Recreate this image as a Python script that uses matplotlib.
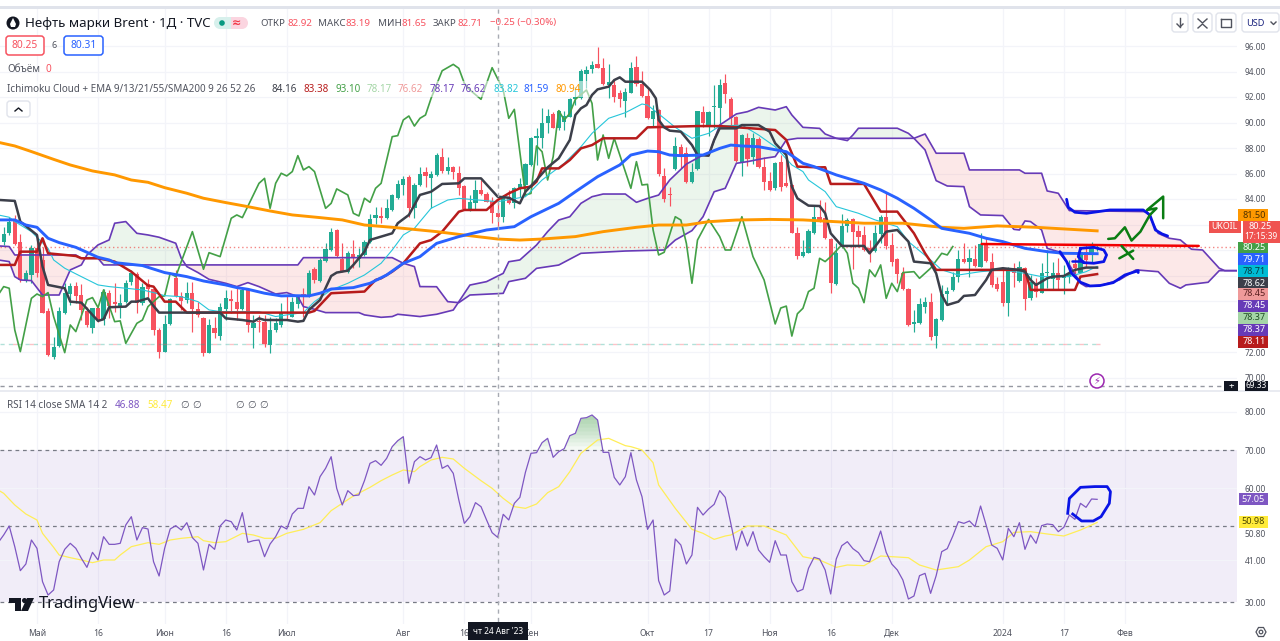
import numpy as np
import matplotlib
matplotlib.use("Agg")
import matplotlib.pyplot as plt
from matplotlib.patches import Rectangle, FancyBboxPatch, Circle, Polygon

plt.rcParams['font.family'] = ['Noto Sans', 'DejaVu Sans']

# ---------- OHLC ----------
opens = [80.66,81.31,82.36,80.61,77.65,78.04,80.13,79.22,75.22,71.64,72.47,75.09,76.55,77.18,76.47,75.22,73.91,75.48,74.57,76.61,
 75.90,75.43,75.95,77.47,78.10,75.82,77.34,76.95,73.73,72.03,74.20,77.83,76.40,76.08,76.61,75.35,74.70,71.90,73.86,73.26,
 75.35,76.16,75.95,75.38,76.95,73.91,74.46,74.38,72.55,73.73,74.12,75.09,74.78,75.77,76.55,76.40,78.51,77.57,79.17,80.0,
 81.57,79.27,78.30,79.69,79.27,79.61,80.66,82.49,82.67,82.49,83.14,84.06,85.10,85.70,83.27,85.10,86.14,85.62,85.88,87.27,
 86.22,86.48,86.01,85.02,83.19,83.71,84.71,84.39,83.84,82.93,82.61,84.13,83.66,84.78,85.10,86.67,88.76,88.81,89.99,90.67,
 89.59,90.06,90.40,91.82,91.89,93.78,94.17,94.59,94.30,92.94,92.94,92.34,91.69,92.34,94.33,92.99,92.08,90.27,90.98,85.80,
 84.37,86.35,88.10,87.63,85.36,86.33,90.85,89.67,91.24,91.16,93.12,91.84,90.40,86.93,88.76,87.27,88.68,86.54,85.41,84.84,
 86.88,85.28,85.10,81.36,79.53,79.79,81.31,82.62,82.49,80.87,77.34,80.21,81.89,82.44,81.49,81.18,80.13,79.95,81.26,82.57,
 80.40,79.27,78.17,76.92,74.20,74.25,75.56,75.90,73.26,74.51,76.53,76.87,77.86,79.27,79.04,79.27,78.70,80.47,79.09,77.34,
 77.52,75.87,78.44,77.57,78.57,76.21,77.34,76.66,78.17,77.73,78.17,77.78,77.86,78.91,78.23,79.82,79.61,80.14]
highs = [81.83,82.62,82.75,81.26,78.44,80.40,81.18,80.27,75.43,73.21,75.56,77.39,77.39,77.47,77.31,75.56,75.48,75.56,76.95,76.87,
 77.39,76.55,77.65,78.44,78.30,77.39,77.70,77.0,73.86,74.91,76.21,78.44,76.74,77.52,77.52,75.95,74.78,74.57,74.78,75.82,
 76.87,76.87,77.13,77.0,77.0,74.91,74.91,74.91,74.78,74.64,75.82,76.42,76.34,76.47,77.0,78.44,78.70,79.35,80.53,81.70,
 81.62,80.53,79.93,80.79,80.13,80.79,82.83,83.40,83.35,83.98,84.40,85.49,85.81,85.89,85.23,86.54,86.54,86.22,87.58,88.03,
 87.27,86.59,86.59,85.10,84.31,85.49,85.49,84.57,84.18,83.66,84.31,84.71,84.97,85.62,86.80,88.89,89.54,91.11,91.03,90.85,
 90.98,90.93,91.89,92.81,94.17,94.43,94.85,95.89,95.03,94.59,93.33,92.55,92.68,94.77,95.24,94.06,92.81,91.37,91.03,86.40,
 84.97,88.89,88.31,88.10,86.80,90.93,91.32,90.93,92.94,93.38,93.78,92.03,90.51,89.10,89.20,89.20,88.84,87.32,86.14,86.93,
 87.45,87.58,85.18,81.83,80.79,81.62,83.45,83.93,83.79,80.92,80.53,82.83,82.49,82.49,81.96,81.89,80.79,81.96,82.75,84.58,
 81.31,79.35,78.70,77.0,75.30,76.21,76.34,76.61,74.64,77.26,77.13,78.30,80.0,80.53,80.06,80.40,81.36,80.92,79.74,77.91,
 78.70,78.70,78.96,79.14,78.70,78.04,77.78,78.96,80.0,79.09,79.35,78.83,79.22,79.35,80.13,80.40,80.66,80.40]
lows = [80.40,81.18,80.40,77.52,77.52,77.39,77.91,75.09,71.72,71.43,72.42,74.98,75.69,75.87,74.51,73.99,73.47,74.38,74.12,74.64,
 75.17,74.64,75.82,77.26,75.09,75.69,76.29,73.34,71.51,72.03,74.12,76.34,75.30,75.82,73.60,74.78,71.69,71.90,73.08,72.95,
 74.51,75.04,74.51,75.30,73.60,72.29,73.60,72.42,71.90,73.60,73.99,74.57,74.72,75.43,74.78,76.34,77.39,77.52,79.09,79.95,
 79.48,78.30,78.23,78.57,78.64,79.53,80.58,82.04,82.10,82.44,83.09,83.98,84.32,82.62,82.49,85.05,84.97,83.32,85.83,86.01,
 85.93,85.54,84.31,83.14,83.08,83.14,84.31,83.74,82.09,81.62,82.22,83.61,83.27,84.18,84.31,86.59,86.67,87.97,89.15,89.54,
 89.41,89.41,90.40,91.37,91.82,92.68,93.86,94.25,92.94,91.89,91.63,91.24,90.46,92.29,92.86,91.97,90.25,89.62,85.80,83.79,
 83.45,86.27,86.40,85.28,85.23,86.27,89.62,88.94,89.54,89.80,91.50,89.54,86.93,85.80,86.59,86.74,86.46,84.71,84.65,84.71,
 84.65,84.97,81.31,79.27,79.48,79.74,81.26,82.23,80.84,76.66,77.29,80.13,81.39,78.51,80.27,79.95,79.09,79.87,80.53,80.06,
 78.78,77.39,76.87,74.04,73.60,74.20,75.04,72.95,72.29,74.44,75.77,76.81,77.52,78.96,77.86,78.70,78.64,79.09,77.13,76.81,
 75.61,74.83,77.13,77.52,75.30,76.08,76.34,76.61,77.0,76.87,76.87,76.55,77.39,77.78,78.17,78.70,78.96,79.90]
closes = [81.23,82.23,80.47,77.65,78.23,80.13,78.17,75.09,71.77,72.42,75.22,76.61,77.21,76.42,75.30,74.12,75.43,74.51,76.68,75.64,
 75.74,75.82,77.44,78.17,75.87,77.13,76.92,73.73,72.03,74.20,76.13,76.40,76.0,76.66,75.38,74.91,71.95,74.12,73.47,75.51,
 76.24,76.0,75.35,76.87,74.12,74.25,74.33,72.61,73.73,74.25,75.04,75.04,75.95,76.34,76.40,78.17,77.65,79.22,80.06,81.44,
 79.53,78.38,79.74,79.35,79.61,80.61,82.41,82.75,82.54,83.32,84.32,85.18,85.57,83.27,85.10,85.94,85.80,86.0,87.45,86.20,
 86.54,86.14,84.89,83.22,83.79,84.71,84.39,83.79,82.88,82.61,84.05,83.66,84.84,85.15,86.74,88.81,88.94,89.99,90.51,89.59,
 90.93,90.51,91.82,92.03,94.04,94.12,94.48,94.25,93.02,93.15,92.03,91.82,92.37,94.25,92.99,92.08,90.33,90.93,85.93,84.0,
 84.31,88.16,87.27,85.36,86.14,90.90,89.93,90.85,91.32,92.94,92.23,90.38,87.01,89.02,87.11,88.76,86.54,85.36,84.71,86.85,
 84.97,85.05,81.31,79.53,79.82,81.52,82.62,82.28,80.92,77.39,79.79,81.89,82.36,81.44,81.05,80.0,79.82,81.31,82.57,80.32,
 79.09,78.10,76.92,74.12,74.33,75.74,75.95,73.21,74.57,76.55,76.81,77.86,79.27,79.04,79.35,78.78,80.47,79.17,77.26,76.95,
 75.82,78.44,78.23,78.70,76.13,77.47,76.68,78.23,78.30,78.23,77.65,78.04,78.12,78.57,79.82,79.22,80.13,80.25]

# ---------- indicator lines: bar index / value ----------
tenkan_i = [-1,2,3,6,7,8,11,12,14,16,17,18,19,22,23,24,26,27,28,39,40,43,45,46,47,51,53,54,55,57,59,60,62,63,65,66,70,71,73,75,
 77,79,82,83,86,89,91,93,94,96,98,100,102,103,104,105,106,107,109,110,111,112,115,116.5,117.5,118,119,120,122,124,125,127,128,129,132,133,136,138,139,141,142,143,145,
 147,148,149,151,155,156,157,159,161,163,164,167,168,169,170,172,173,175,177,178,180,183,184,185,186,188,189,191,193,195,197]
tenkan_p = [83.93,83.85,82.23,81.18,78.70,77.26,77.0,75.95,75.87,74.91,74.44,74.57,75.51,75.56,75.95,75.95,76.21,75.61,75.09,75.09,74.64,74.51,74.38,74.64,74.51,74.51,74.38,74.44,75.30,76.08,77.96,78.23,78.38,78.83,79.87,80.79,81.31,82.10,82.75,84.32,
 84.57,85.18,85.23,85.62,85.62,84.18,84.10,83.66,84.57,85.49,86.48,87.19,88.63,90.59,91.11,91.37,92.16,92.60,92.81,93.33,93.54,93.2,93.2,92.55,91.89,90.2,89.62,89.36,89.28,88.23,87.45,87.40,88.63,89.54,89.54,89.80,89.80,89.28,88.37,87.45,84.97,84.05,83.48,
 83.45,82.88,81.31,80.32,80.32,79.74,80.27,81.44,81.57,80.66,79.09,78.96,78.17,76.47,75.69,75.95,76.40,76.47,77.65,78.44,78.57,78.44,78.30,77.65,77.26,77.78,77.91,77.96,78.44,78.62,78.62]
kijun_i = [-1,2,3,6,7,8,13,14,17,20,23,26,27,29,31,33,55,56,59,65,67,68,70,72,75,77,79,82,83,87,89,91,93,95,96,97,100,102,104,106,108,114,116,125,129,139,141,143,147,148,149,155,158,161,164,166,168,184,185,193,194,197]
kijun_p = [78.83,78.83,79.87,79.87,80.92,79.74,79.53,79.35,79.35,79.09,78.30,77.21,77.13,75.95,75.95,75.09,75.09,75.22,76.61,76.74,77.65,77.78,78.30,78.96,80.52,80.78,81.44,83.0,83.14,83.14,83.92,84.44,84.84,84.97,85.36,86.40,86.40,87.06,87.97,88.23,88.76,88.76,89.62,89.72,89.72,89.41,88.63,86.54,86.48,86.49,85.18,85.18,83.01,83.01,81.31,79.74,78.44,78.44,76.87,76.87,77.91,78.11]
chikou_i = [-1,0,1,2,3,5,6,7,8,9,11,12,13,15,16,17,18,20,21,22,24,25,26,28,29,30,31,34,36,37,39,41,42,43,46,47,48,49,50,51,52,53,54,55,56,58,59,60,62,63,64,65,66,67,68,70,71,72,
 73,74,75,76,77,79,81,82,83,84,86,88,90,91,92,94,95,96,97,98,99,100,101,102,103,105,106,107,108,109,110,112,113,114,115,116,117,118,119,121,122,123,124,125,127,129,130,131,133,135,137,139,140,141,142,143,144,145,146,147,148,149,151,152,153,154,155,156,157,158,159,160,161,162,164,165,167,169,170,171]
chikou_p = [76.47,77.13,77.0,73.73,72.03,76.21,76.55,76.34,76.66,74.78,71.95,74.12,73.60,76.08,76.27,75.48,76.87,74.38,74.44,72.68,74.25,74.51,75.56,76.34,76.40,78.17,77.91,81.44,78.49,79.79,79.48,82.49,82.75,82.54,85.23,85.62,83.27,85.23,86.02,85.81,86.15,87.40,86.28,86.54,86.15,83.27,83.66,84.79,84.32,82.88,82.67,84.06,83.74,84.84,85.23,88.89,88.97,90.2,
 90.51,89.72,90.33,90.59,91.89,94.06,94.56,94.25,93.07,92.55,91.82,94.30,92.55,90.33,91.03,84.31,84.44,88.16,87.71,85.49,87.32,90.93,90.20,90.72,91.82,92.55,91.50,87.06,89.02,87.19,88.76,86.14,84.84,86.93,85.10,85.15,81.57,79.61,79.82,82.61,82.35,80.52,77.39,80.78,82.40,81.05,80.0,80.0,82.61,79.48,77.65,74.2,75.45,75.6,73.25,75.0,75.43,76.74,77.0,79.35,79.09,79.48,80.40,79.74,77.39,77.0,75.87,78.44,77.91,78.83,76.21,77.39,76.74,78.23,78.30,77.78,78.57,79.74,79.61,80.27]
span_a_i = [-1,1,2,3,5,7,10,12,14,15,17,19,20,22,24,26,28,31,32,33,35,37,40,42,44,46,49,51,53,54,56,58,64,65,68,70,71,75,78,81,84,87,90,91,93,96,98,100,102,104,106,108,112,114,116,118,120,123,126,127,129,132,134,136,139,141,142,144,147,148,150,152,153,154,161,163,164,166,168,170,173,174,176,180,182,183,184,185,187,188,190,192,194,195,198,201,204,208,210,212,213,217,219,223]
span_a_p = [79.22,79.09,77.91,77.65,77.60,76.47,76.47,78.44,78.83,79.61,80.40,80.79,82.10,82.23,81.31,81.18,81.0,80.53,79.35,78.70,78.23,77.70,77.39,77.13,77.44,77.13,76.55,76.66,76.34,75.56,75.35,75.09,75.09,74.91,74.72,74.78,74.96,74.78,74.96,75.29,77.25,77.52,78.17,79.08,79.22,80.39,81.44,82.35,82.61,83.66,84.18,84.39,84.39,83.74,84.05,84.31,85.49,86.74,87.45,87.40,89.80,90.67,90.85,91.19,90.98,91.24,90.59,89.62,89.54,89.10,88.76,88.58,89.02,89.55,89.55,89.15,88.76,87.85,85.44,85.02,84.97,83.40,82.75,82.70,81.62,81.57,82.28,82.23,81.57,80.13,79.87,78.83,77.39,77.13,77.26,77.65,78.44,78.30,77.39,77.0,77.26,77.47,78.38,78.38]
span_b_i = [-1,1,2,13,14,17,18,53,54,70,72,74,75,78,80,82,84,90,91,94,96,100,104,112,119,121,124,126,128,130,132,134,137,139,141,143,147,164,166,168,173,174,183,184,187,188,190,192,206,208,210,212,214,216,219,220,223]
span_b_p = [80.32,80.27,79.61,79.61,79.35,79.35,78.83,78.83,79.40,79.40,78.96,78.70,77.13,77.12,75.95,75.87,76.47,76.60,77.52,77.78,78.56,78.82,79.74,79.92,80.0,80.78,81.52,82.61,84.57,84.84,86.80,86.93,87.19,87.32,88.63,88.76,88.76,88.76,89.10,87.59,87.59,86.28,86.28,86.02,86.02,84.63,84.45,83.09,83.01,81.31,80.92,80.79,80.06,80.0,78.57,78.38,78.38]
ema21_i = [-1,2,4,6,8,10,13,17,19,20,25,29,33,36,40,42,44,47,50,52,55,57,59,63,66,69,72,75,78,82,87,92,95,100,103,107,111,113,116,118,120,122,126,129,131,133,136,141,144,146,150,155,158,161,164,167,169,174,177,180,184,188,191,197]
ema21_p = [82.36,82.36,81.96,81.78,80.92,80.58,80.21,79.43,79.22,79.01,78.78,78.23,77.91,77.57,77.26,77.05,76.92,76.61,76.40,76.42,76.40,76.61,76.94,77.05,77.39,78.04,78.96,79.48,80.52,81.05,81.57,81.83,82.61,83.66,84.57,85.75,86.67,87.45,87.76,87.71,87.45,87.40,87.45,87.97,88.23,88.16,88.10,87.71,86.80,86.54,85.89,85.23,84.71,84.06,83.27,82.36,81.70,81.31,80.92,80.66,80.13,79.87,79.74,79.71]
sma200_i = [-1,2,5,9,12,16,20,23,26,29,33,36,40,44,48,52,57,61,65,70,75,78,84,89,93,97,103,108,114,118,123,127,132,138,144,155,162,169,173,179,186,197]
sma200_p = [88.45,88.16,87.72,87.11,86.67,86.20,85.89,85.49,85.31,84.89,84.45,84.06,83.72,83.40,83.06,82.75,82.54,82.36,81.96,81.78,81.57,81.44,81.12,80.86,80.78,80.86,81.05,81.44,81.78,81.96,81.96,82.22,82.35,82.40,82.36,82.10,82.10,81.78,81.70,81.89,81.78,81.50]
ema13_i = [-1,1,2,5,8,9,11,14,17,19,22,25,27,29,32,35,37,39,43,46,49,51,54,56,59,62,65,68,70,72,74,77,80,82,89,94,97,101,104,106,109,112,115,116,119,121,124,127,129,133,136,139,142,144,145,148,150,154,157,161,163,167,169,172,176,180,184,187,192,195,197]
ema13_p = [82.75,82.57,82.23,81.44,80.13,79.22,78.57,77.91,77.26,77.13,77.0,76.87,76.66,76.42,76.34,75.95,75.30,75.17,75.17,75.17,74.78,74.91,75.09,75.95,76.87,77.39,78.04,78.96,80.0,81.18,81.70,83.27,83.92,84.05,83.79,84.18,85.49,86.80,88.10,89.15,90.33,90.77,91.45,91.37,90.33,89.62,88.76,89.15,89.72,89.80,89.02,88.10,86.67,86.15,85.49,84.58,83.40,82.88,82.36,81.83,80.66,79.22,78.44,78.04,78.30,78.44,78.17,77.91,77.91,78.30,78.71]

# ---------- RSI ----------
rsi_values = [45.68,47.69,50.05,44.63,38.33,40.08,46.38,44.19,35.44,31.94,33.26,40.69,43.93,45.51,44.19,41.57,39.20,43.14,41.13,47.25,45.24,45.24,45.51,50.32,52.50,46.38,49.62,49.27,40.69,36.93,44.19,49.27,50.14,49.0,50.93,47.0,45.51,38.51,45.24,43.93,50.05,51.63,51.19,49.0,53.55,45.77,46.20,46.38,42.0,45.33,47.25,50.05,49.27,53.20,54.69,54.69,60.38,58.19,63.0,65.19,68.25,59.94,55.57,59.33,58.02,58.19,61.95,66.50,67.20,65.98,67.81,70.88,72.45,73.50,61.25,66.94,68.25,67.38,67.99,71.31,65.19,65.98,63.88,56.88,50.75,52.50,56.18,55.13,51.63,48.31,47.08,53.12,51.63,56.0,57.58,64.14,69.13,69.30,71.93,73.06,68.08,69.56,70.35,73.76,74.38,78.31,78.49,79.19,77.88,69.39,69.39,62.83,60.82,63.0,69.30,62.13,57.75,
 49.18,51.63,35.71,31.94,32.99,46.64,45.07,40.08,42.44,54.95,52.94,54.52,55.74,59.33,57.58,50.75,43.75,48.74,44.80,48.57,43.75,42.0,40.52,46.20,42.44,42.44,35.44,32.82,33.43,38.94,41.83,41.39,38.51,32.21,41.39,44.89,45.94,44.11,43.05,40.96,40.69,44.63,48.74,43.14,40.08,38.51,35.88,30.89,31.68,37.02,37.63,32.38,37.02,43.32,44.11,47.43,51.19,50.75,51.37,49.88,55.30,50.32,45.07,44.19,41.13,49.44,47.25,50.93,43.93,47.69,45.51,50.14,50.58,50.40,48.57,49.70,52.94,51.80,56.0,54.95,57.14,57.05]
rsi_sma_i = [-1,0,2,4,6,7,9,10,12,14,16,18,20,21,23,26,28,30,32,35,36,38,40,43,45,47,49,51,54,57,59,61,63,66,68,70,72,74,75,77,79,81,83,86,88,90,92,94,96,98,100,102,104,107,109,112,113,115,117,118,121,124,126,128,130,131,134,137,141,144,147,150,152,155,158,163,165,168,172,174,177,180,182,185,188,191,194,197]
rsi_sma_v = [59.50,58.63,55.57,53.20,51.63,48.13,44.46,42.44,41.74,41.13,40.43,41.13,41.13,42.44,44.63,45.68,45.24,46.38,46.82,47.25,46.20,45.68,45.94,48.13,47.69,46.82,46.82,48.13,49.18,50.93,54.08,56.0,57.93,60.20,61.95,63.44,64.75,64.32,65.63,67.38,68.08,67.64,65.19,61.95,59.94,57.31,55.13,54.69,55.83,58.80,60.38,64.32,69.13,72.63,73.06,71.14,70.88,70.0,66.68,60.82,54.69,49.18,48.13,46.55,47.43,47.69,50.05,50.05,47.69,42.0,41.13,39.20,39.82,39.64,42.18,41.74,39.82,38.51,39.38,41.13,44.63,45.94,48.39,48.57,47.96,47.43,49.0,50.98]

# ---------- hand drawn annotations (bar index / price) ----------
ink_blue_top_i = [191.5,191.8,193,195.1,199.3,205.3,206.5,207.5,208.7,209.7]
ink_blue_top_p = [83.98,83.35,82.96,82.88,83.14,83.14,82.75,81.57,81.26,81.10]
ink_blue_low_i = [190.3,191.5,192.4,194,195.7,197.5,199.9,202,204.4,204.4]
ink_blue_low_p = [79.87,79.09,78.17,77.47,77.18,77.21,77.44,78.04,78.38,78.23]
ink_oval_i = [194,196.4,198.2,198.7,198.2,196.4,194.5,193.6,194]
ink_oval_p = [80.13,80.21,80.0,79.61,79.09,78.96,79.01,79.48,80.13]
ink_tick_i = [192.4,194.5]
ink_tick_p = [79.17,79.17]
ink_red_i = [176.2,215.3]
ink_red_p = [80.47,80.32]
ink_green_i = [199,200.2,202,203.2,204.8,206.5,207.7,206,208.9,208.9]
ink_green_p = [80.87,80.92,81.78,80.74,81.44,82.75,83.27,83.14,84.19,82.49]
ink_x1_i = [201.4,203.5]; ink_x1_p = [80.32,79.30]
ink_x2_i = [203.5,201]; ink_x2_p = [79.95,79.35]
ink_rsi_i = [191.7,192,194,196.6,198.8,199.4,199.2,197.7,196.3,194.2,192.6]
ink_rsi_v = [53.38,57.3,60.2,60.4,60.4,59.07,56.0,52.5,51.37,51.37,53.2]

price_ticks = [70,72,84,86,88,90,92,94,96]
grid_prices = list(range(70, 98, 2))
time_pos = [6,17,29,40,51,72,83,95,116,127,138,149,160,180,191,202]
time_lab = ['Май','16','Июн','16','Июл','Авг','16','Сен','Окт','17','Ноя','16','Дек','2024','17','Фев']
rsi_tick_pos = [80,70,60,47.96,41.1,30]
rsi_tick_lab = ['80.00','70.00','60.00','50.80','41.00','30.00']
last_price = 80.25
low_price = 72.63
hi_price = 69.33

W, H = 1280, 641
UP, DN = '#22ab94', '#f7525f'
PURPLE = '#673ab7'
GRID = '#f3f4f9'
TXT = '#131722'
AX = '#50535e'

fig = plt.figure(figsize=(12.8, 6.41), dpi=100, facecolor='white')

def box(x0, y0, x1, y1):
    return [x0/W, 1-y1/H, (x1-x0)/W, (y1-y0)/H]

ax = fig.add_axes(box(0, 9, 1237, 390))
rx = fig.add_axes(box(0, 392, 1237, 624), sharex=ax)
for a in (ax, rx):
    a.set_facecolor('white')
    for s in a.spines.values():
        s.set_visible(False)

xmin, xmax = -0.661, 222.2
ax.set_xlim(xmin, xmax)
ax.set_ylim(96-(390-46)/12.75, 96+(46-9)/12.75)
rx.set_ylim(85.75-3*(624-390)/11.43, 85.75-3*(392-390)/11.43)

# grid + ticks
ax.set_yticks(price_ticks)
ax.set_yticklabels(['%.2f' % t for t in price_ticks])
ax.yaxis.tick_right()
ax.tick_params(axis='y', length=0, pad=5.5, labelsize=6, labelcolor=AX)
ax.tick_params(axis='x', length=0, labelbottom=False)
ax.set_xticks(time_pos)
ax.grid(True, axis='x', color=GRID, lw=0.9)
for g in grid_prices:
    ax.axhline(g, color=GRID, lw=0.9, zorder=0.5)
ax.set_axisbelow(True)

rx.set_yticks(rsi_tick_pos)
rx.set_yticklabels(rsi_tick_lab)
rx.yaxis.tick_right()
rx.tick_params(axis='y', length=0, pad=5.5, labelsize=6, labelcolor=AX)
rx.set_xticks(time_pos)
rx.set_xticklabels(time_lab)
rx.tick_params(axis='x', length=0, pad=3.5, labelsize=6.2, labelcolor=AX)
rx.grid(True, axis='x', color=GRID, lw=0.9)
rx.set_axisbelow(True)

# cloud fill
xx = np.arange(-1, 223.01, 0.1)
aa = np.interp(xx, span_a_i, span_a_p)
bb = np.interp(xx, span_b_i, span_b_p)
ax.fill_between(xx, aa, bb, where=aa >= bb, color='#43a047', alpha=0.10, lw=0, zorder=1)
ax.fill_between(xx, aa, bb, where=aa <= bb, color='#ef5350', alpha=0.13, lw=0, zorder=1)

# candles
ci = np.arange(len(opens))
o, h, l, c = map(np.array, (opens, highs, lows, closes))
cols = [UP if cc >= oo else DN for oo, cc in zip(o, c)]
ax.vlines(ci, l, h, colors=cols, lw=0.85, zorder=2)
ax.bar(ci, np.abs(c-o), bottom=np.minimum(o, c), width=0.76, color=cols, lw=0, zorder=2.1)

# level lines
ax.axhline(last_price, color='#ef5350', lw=1, ls=(0, (1, 2)), alpha=0.7, zorder=2.2)
ax.axhline(hi_price, color='#9598a1', lw=1, ls=(0, (3, 3)), zorder=2.2)
ax.plot([xmin, 197.5], [low_price]*2, color='#22ab94', lw=1, ls=(0, (3, 3)), alpha=0.35, zorder=2.2)
ax.plot([xmin, 197.5], [low_price]*2, color='#f7525f', lw=1, ls=(3, (3, 9)), alpha=0.35, zorder=2.2)

# indicator lines
ax.plot(span_a_i, span_a_p, color=PURPLE, lw=1.2, zorder=3)
ax.plot(span_b_i, span_b_p, color=PURPLE, lw=1.2, zorder=3)
ax.plot(chikou_i, chikou_p, color='#43a047', lw=1.2, zorder=3.1)
ax.plot(ema13_i, ema13_p, color='#26c6da', lw=0.8, zorder=3.2)
ax.plot(kijun_i, kijun_p, color='#b71c1c', lw=1.8, zorder=3.3)
ax.plot(tenkan_i, tenkan_p, color='#3c3f4a', lw=1.8, zorder=3.4)
ax.plot(sma200_i, sma200_p, color='#ff9800', lw=2.1, zorder=3.5)
ax.plot(ema21_i, ema21_p, color='#2962ff', lw=2.1, zorder=3.6)

# annotations
for xs, ys, cl, lw in [(ink_red_i, ink_red_p, '#f20000', 1.8),
                       (ink_blue_top_i, ink_blue_top_p, '#0a14e6', 2.0),
                       (ink_blue_low_i, ink_blue_low_p, '#0a14e6', 2.0),
                       (ink_oval_i, ink_oval_p, '#0a14e6', 2.0),
                       (ink_tick_i, ink_tick_p, '#0a14e6', 1.8),
                       (ink_green_i, ink_green_p, '#0a7d12', 1.8),
                       (ink_x1_i, ink_x1_p, '#0a7d12', 1.8),
                       (ink_x2_i, ink_x2_p, '#0a7d12', 1.8)]:
    ax.plot(xs, ys, color=cl, lw=lw, zorder=4, solid_capstyle='round', solid_joinstyle='round')

# RSI pane
rsi_x = np.arange(197-len(rsi_values)+1, 198)
rsi_y = np.array(rsi_values)
rx.axhspan(30, 70, color='#7e57c2', alpha=0.1, lw=0, zorder=1)
for v in (80, 60, 41.1):
    rx.axhline(v, color=GRID, lw=0.9, zorder=1.1)
for v in (70, 50, 30):
    rx.axhline(v, color='#787b86', lw=0.9, ls=(0, (3, 3)), zorder=1.5)
xf = np.arange(rsi_x[0], rsi_x[-1]+0.01, 0.05)
yf = np.interp(xf, rsi_x, rsi_y)
for lev in np.arange(70, 79, 1.0):
    rx.fill_between(xf, lev, yf, where=yf > lev, color='#43a047', alpha=0.055, lw=0, zorder=1.6)
rx.plot(rsi_sma_i, rsi_sma_v, color='#ffee58', lw=0.9, zorder=2)
rx.plot(rsi_x, rsi_y, color='#7e57c2', lw=0.9, zorder=3)
rx.plot(ink_rsi_i, ink_rsi_v, color='#0a14e6', lw=2.0, zorder=4, solid_joinstyle='round')

# ---------- overlay (interface chrome) ----------
ov = fig.add_axes([0, 0, 1, 1], zorder=10)
ov.set_xlim(0, W); ov.set_ylim(H, 0); ov.axis('off'); ov.patch.set_alpha(0)

def T(x, y, s, size=7.2, color=TXT, ha='left', weight='normal', **k):
    return ov.text(x, y, s, fontsize=size, color=color, ha=ha, va='center', fontweight=weight, **k)
def R(x0, y0, x1, y1, fc, ec='none', lw=0, alpha=None, z=1):
    ov.add_patch(Rectangle((x0, y0), x1-x0, y1-y0, fc=fc, ec=ec, lw=lw, alpha=alpha, zorder=z))
def RB(x0, y0, x1, y1, ec='#e0e3eb', fc='white', lw=1, r=3):
    ov.add_patch(FancyBboxPatch((x0+r, y0+r), x1-x0-2*r, y1-y0-2*r, boxstyle='round,pad=%g,rounding_size=%g' % (r, r),
                                fc=fc, ec=ec, lw=lw, zorder=2))

# frame bands
R(0, 6, W, 9, '#e0e3eb')
R(0, 389.5, W, 392, '#e9ebf1')
R(0, 0, W, 6, 'white')

# crosshair
ov.plot([498, 498], [9, 624], color='#a8abb3', lw=1, ls=(0, (3, 3)), zorder=1)

# title
ov.add_patch(Circle((13, 23), 6.5, fc='#131722', ec='none', zorder=3))
ov.add_patch(Polygon([(13, 18), (16, 24), (15, 27), (11, 27), (10, 24)], fc='white', ec='none', zorder=4))
T(25, 23, 'Нефть марки Brent · 1Д · TVC', size=9.6)
R(219, 17, 231, 29, '#d7f0ec', z=2)
ov.add_patch(Circle((220, 23), 6, fc='#d7f0ec', ec='none', zorder=2))
R(231, 17, 242, 29, '#fbd5e0', z=2)
ov.add_patch(Circle((242, 23), 6, fc='#fbd5e0', ec='none', zorder=2))
ov.add_patch(Circle((222, 23), 2.8, fc='#089981', ec='none', zorder=3))
T(237, 23, '≈', size=8, color='#f23645', ha='center', weight='bold', zorder=4)

ohlc = [(260, 'ОТКР', AX), (287, '82.92', DN), (318, 'МАКС', AX), (346, '83.19', DN), (378, 'МИН', AX), (402, '81.65', DN),
        (433, 'ЗАКР', AX), (457, '82.71', DN), (490, '−0.25 (−0.30%)', DN)]
for x, s, cl in ohlc:
    T(x, 23, s, size=7.0, color=cl)

RB(6, 36, 44, 55, ec='#f7525f', lw=1.1)
T(25, 46, '80.25', size=7.4, color=DN, ha='center', zorder=5)
T(54, 46, '6', size=6.5, color=AX, ha='center')
RB(64, 36, 103, 55, ec='#2962ff', lw=1.1)
T(83.5, 46, '80.31', size=7.4, color='#2962ff', ha='center', zorder=5)
T(7, 69, 'Объём', size=7.2, color=AX)
T(46, 69, '0', size=7.2, color=DN)

R(4, 81, 590, 97, 'white', alpha=0.55, z=1)
T(7, 89, 'Ichimoku Cloud + EMA 9/13/21/55/SMA200 9 26 52 26', size=7.1, color=AX)
leg = [(272, '84.16', '#3c3f4a'), (304, '83.38', '#b71c1c'), (335, '93.10', '#43a047'), (367, '78.17', '#a5d6a7'),
       (398, '76.62', '#ef9a9a'), (430, '78.17', PURPLE), (461, '76.62', PURPLE), (493, '83.82', '#26c6da'),
       (524, '81.59', '#2962ff'), (555, '80.94', '#ff9800')]
for x, s, cl in leg:
    T(x, 89, s, size=7.1, color=cl)
RB(7, 101, 30, 117)
ov.plot([15, 18.5, 22], [111, 108, 111], color=TXT, lw=1, zorder=5)

# top-right buttons
RB(1172, 13, 1188, 32)
ov.plot([1180, 1180], [18, 27], color=AX, lw=1, zorder=5)
ov.plot([1177, 1180, 1183], [24, 27, 24], color=AX, lw=1, zorder=5)
RB(1193, 13, 1212, 32)
ov.plot([1198, 1202.5, 1207], [19, 23, 19], color=AX, lw=1, zorder=5)
ov.plot([1198, 1202.5, 1207], [28, 24, 28], color=AX, lw=1, zorder=5)
RB(1216, 13, 1236, 32)
ov.plot([1221, 1221, 1231, 1231, 1221], [19, 27, 27, 19, 19], color=AX, lw=1, zorder=5)
RB(1242, 13, 1279, 32)
T(1246, 23, 'USD', size=6.6, color='#1a237e', zorder=5)
ov.plot([1271, 1273.5, 1276], [22, 24.5, 22], color=AX, lw=1, zorder=5)

# price tags
tags = [(215, '81.50', '#ff9800', '#4a2f00'), (248, '80.25', '#43a047', 'white'), (259, '79.71', '#2962ff', 'white'),
        (271, '78.71', '#00bcd4', '#063a40'), (283, '78.62', '#3c3f4a', 'white'), (294, '78.45', '#ef9a9a', '#5a2020'),
        (306, '78.45', PURPLE, 'white'), (318, '78.37', '#a5d6a7', '#1e4d22'), (330, '78.37', PURPLE, 'white'),
        (342, '78.11', '#b71c1c', 'white')]
for y, s, bg, fg in tags:
    R(1238, y-5.8, 1268, y+5.8, bg, z=2)
    T(1254, y, s, size=6.5, color=fg, ha='center', zorder=3)
R(1243, 220.5, 1280, 242.5, '#ef5350', z=2.5)
T(1260, 226.5, '80.25', size=6.5, color='white', ha='center', zorder=3)
T(1261, 236.5, '17:15:39', size=6, color='white', ha='center', zorder=3)
R(1209, 221, 1241, 232.5, '#ef5350', z=2)
T(1224, 226.8, 'UKOIL', size=6.3, color='white', ha='center', weight='bold', zorder=3)
R(1245, 381, 1268, 391, '#131722', z=2)
T(1256.5, 386, '69.33', size=6, color='white', ha='center', zorder=3)
R(1224, 381, 1238, 391, '#131722', z=2)
T(1231, 386, '+', size=7, color='white', ha='center', zorder=3)

# lightning
ov.add_patch(Circle((1097, 381), 7, fc='white', ec='#9c27b0', lw=1.1, zorder=3))
T(1097, 381, '⚡', size=7, color='#9c27b0', ha='center', family='DejaVu Sans', zorder=4)

# RSI legend
T(7, 406, 'RSI 14 close SMA 14 2', size=7.1, color=AX)
T(115, 406, '46.88', size=7.1, color='#7e57c2')
T(147, 406, '58.47', size=7.1, color='#ffeb3b')
for x in (180, 192, 235, 247, 259):
    T(x, 406, '∅', size=7.1, color=AX)

# RSI tags
R(1239, 493, 1268, 505, '#7e57c2', z=2)
T(1253.5, 499, '57.05', size=6.5, color='white', ha='center', zorder=3)
R(1239, 516, 1268, 528, '#ffeb3b', z=2)
T(1253.5, 522, '50.98', size=6.5, color='#4a4500', ha='center', zorder=3)

# logo
ov.add_patch(Polygon([(9, 598), (21, 598), (21, 611), (15, 611), (15, 603), (9, 603)], fc='#131722', ec='none', zorder=5))
ov.add_patch(Circle((24.5, 600.5), 2.5, fc='#131722', ec='none', zorder=5))
ov.add_patch(Polygon([(27, 598), (34, 598), (28, 611), (21, 611)], fc='#131722', ec='none', zorder=5))
T(39, 604, 'TradingView', size=12.0, color='#131722', weight='bold', zorder=5)

# date tag
R(468, 622, 528, 640, '#131722', z=5)
T(498, 631, "чт 24 Авг '23", size=6, color='white', ha='center', weight='bold', zorder=6)

# settings icon
ov.add_patch(Polygon([(1256, 632), (1258.5, 627.5), (1263.5, 627.5), (1266, 632), (1263.5, 636.5), (1258.5, 636.5)],
                     fc='white', ec=AX, lw=0.9, zorder=5))
ov.add_patch(Circle((1261, 632), 1.8, fc='white', ec=AX, lw=0.9, zorder=6))

fig.savefig('out.png', dpi=100, facecolor='white')
